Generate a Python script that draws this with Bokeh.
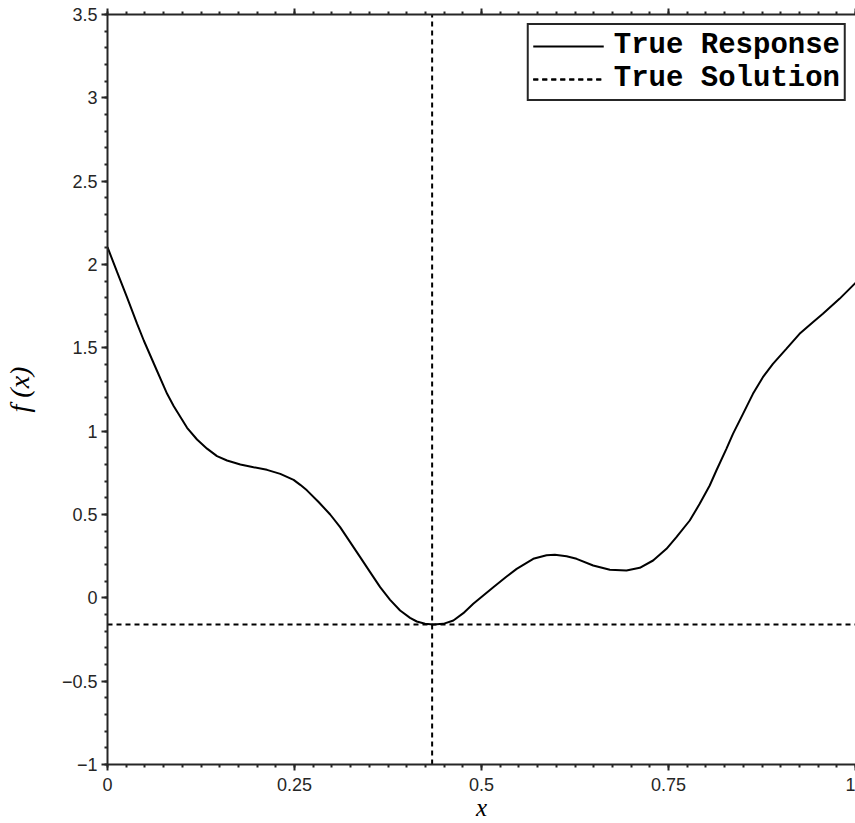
from bokeh.plotting import figure
from bokeh.models import Range1d, FixedTicker, LinearAxis, Legend, LegendItem
from bokeh.embed import file_html
from bokeh.resources import INLINE

# ---- data ----
x_vals = [0.000, 0.0129, 0.026, 0.0396, 0.0485, 0.066, 0.0797, 0.0886,
          0.1064, 0.1197, 0.1331, 0.1464, 0.1598, 0.1776, 0.1953, 0.2132, 0.231,
          0.2488, 0.2577, 0.2666, 0.2822, 0.2977, 0.311, 0.3244, 0.3378,
          0.3511, 0.3645, 0.3778, 0.3912, 0.4045, 0.4135, 0.4245, 0.4357, 0.449,
          0.4624, 0.4757, 0.489, 0.5024, 0.5158, 0.5336, 0.547, 0.5692, 0.587,
          0.5981, 0.6137, 0.6271, 0.6493, 0.6716, 0.6938, 0.7116, 0.7294, 0.7473,
          0.7606, 0.7784, 0.7917, 0.8051, 0.814, 0.8274, 0.8362, 0.8496, 0.8629,
          0.8762, 0.8896, 0.9075, 0.9252, 0.943, 0.9564, 0.9786, 1.000]
f_vals = [2.104, 1.954, 1.804, 1.644, 1.544, 1.364, 1.224, 1.150,
          1.020, 0.950, 0.895, 0.850, 0.824, 0.800, 0.784, 0.768, 0.744,
          0.708, 0.678, 0.645, 0.575, 0.500, 0.424, 0.334, 0.244,
          0.154, 0.064, -0.012, -0.076, -0.120, -0.142, -0.155, -0.160, -0.156,
          -0.136, -0.092, -0.036, 0.014, 0.064, 0.128, 0.174, 0.234, 0.256,
          0.258, 0.250, 0.234, 0.194, 0.168, 0.164, 0.180, 0.224, 0.294,
          0.364, 0.464, 0.564, 0.674, 0.764, 0.894, 0.984, 1.104, 1.224,
          1.324, 1.404, 1.494, 1.584, 1.654, 1.704, 1.794, 1.890]
x_star = 0.434
f_star = -0.160

x_ticks = [0, 0.25, 0.5, 0.75, 1]
x_tick_labels = ["0", "0.25", "0.5", "0.75", "1"]
x_minor = [i * 0.025 for i in range(41)]
y_ticks = [-1, -0.5, 0, 0.5, 1, 1.5, 2, 2.5, 3, 3.5]
y_tick_labels = ["\u22121", "\u22120.5", "0", "0.5", "1", "1.5", "2", "2.5", "3", "3.5"]
y_minor = [round(-1 + i * 0.1, 2) for i in range(46)]

x_lim = (0, 1)
y_lim = (-1, 3.5)

AX = "#262626"

p = figure(width=855, height=823, output_backend="svg", toolbar_location=None,
           x_range=Range1d(*x_lim), y_range=Range1d(*y_lim),
           min_border_left=107, min_border_right=0, min_border_top=14,
           min_border_bottom=59, x_axis_location="below", y_axis_location="left")
p.background_fill_color = "white"
p.border_fill_color = "white"
p.outline_line_color = None
p.xgrid.visible = False
p.ygrid.visible = False

def style_axis(ax):
    ax.axis_line_color = AX
    ax.axis_line_width = 2
    ax.major_tick_line_color = AX
    ax.minor_tick_line_color = AX
    ax.major_tick_line_width = 2
    ax.minor_tick_line_width = 2
    ax.major_tick_in = 0
    ax.major_tick_out = 6
    ax.minor_tick_in = 0
    ax.minor_tick_out = 3
    ax.major_label_text_color = AX
    ax.major_label_text_font = "Liberation Sans"
    ax.major_label_text_font_size = "18px"

xa = p.xaxis[0]
xa.ticker = FixedTicker(ticks=x_ticks, minor_ticks=x_minor)
xa.major_label_overrides = {float(t): s for t, s in zip(x_ticks, x_tick_labels)}
style_axis(xa)
xa.major_label_standoff = 7
xa.axis_label = "x"
xa.axis_label_text_font = "Liberation Serif"
xa.axis_label_text_font_style = "italic"
xa.axis_label_text_font_size = "25px"
xa.axis_label_text_color = "black"
xa.axis_label_standoff = 0

ya = p.yaxis[0]
ya.ticker = FixedTicker(ticks=y_ticks, minor_ticks=y_minor)
ya.major_label_overrides = {float(t): s for t, s in zip(y_ticks, y_tick_labels)}
style_axis(ya)
ya.major_label_standoff = 4
ya.axis_label = "f (x)"
ya.axis_label_text_font = "Liberation Serif"
ya.axis_label_text_font_style = "italic"
ya.axis_label_text_font_size = "28px"
ya.axis_label_text_color = "black"
ya.axis_label_standoff = 24

top = LinearAxis(ticker=FixedTicker(ticks=x_ticks, minor_ticks=x_minor))
style_axis(top)
top.major_label_text_font_size = "0px"
top.major_label_text_color = None
top.major_label_text_alpha = 0
top.major_label_standoff = 0
p.add_layout(top, "above")

r_curve = p.line(x_vals, f_vals, line_color="black", line_width=2)
r_v = p.line([x_star, x_star], list(y_lim), line_color="black", line_width=2,
             line_dash="5 4")
r_h = p.line(list(x_lim), [f_star, f_star], line_color="black", line_width=2,
             line_dash="5 4")

legend = Legend(items=[LegendItem(label="True Response", renderers=[r_curve]),
                       LegendItem(label="True Solution", renderers=[r_v, r_h])],
                location="top_right")
legend.margin = 9
legend.padding = 4
legend.spacing = 0
legend.glyph_width = 71
legend.label_standoff = 10
legend.label_height = 30
legend.glyph_height = 30
legend.label_text_font = "Liberation Mono"
legend.label_text_font_style = "bold"
legend.label_text_font_size = "29px"
legend.label_text_color = "black"
legend.border_line_color = AX
legend.border_line_width = 2
legend.border_line_alpha = 1
legend.background_fill_color = "white"
legend.background_fill_alpha = 1
p.add_layout(legend, "center")

open("out.html", "w").write(file_html(p, INLINE))
